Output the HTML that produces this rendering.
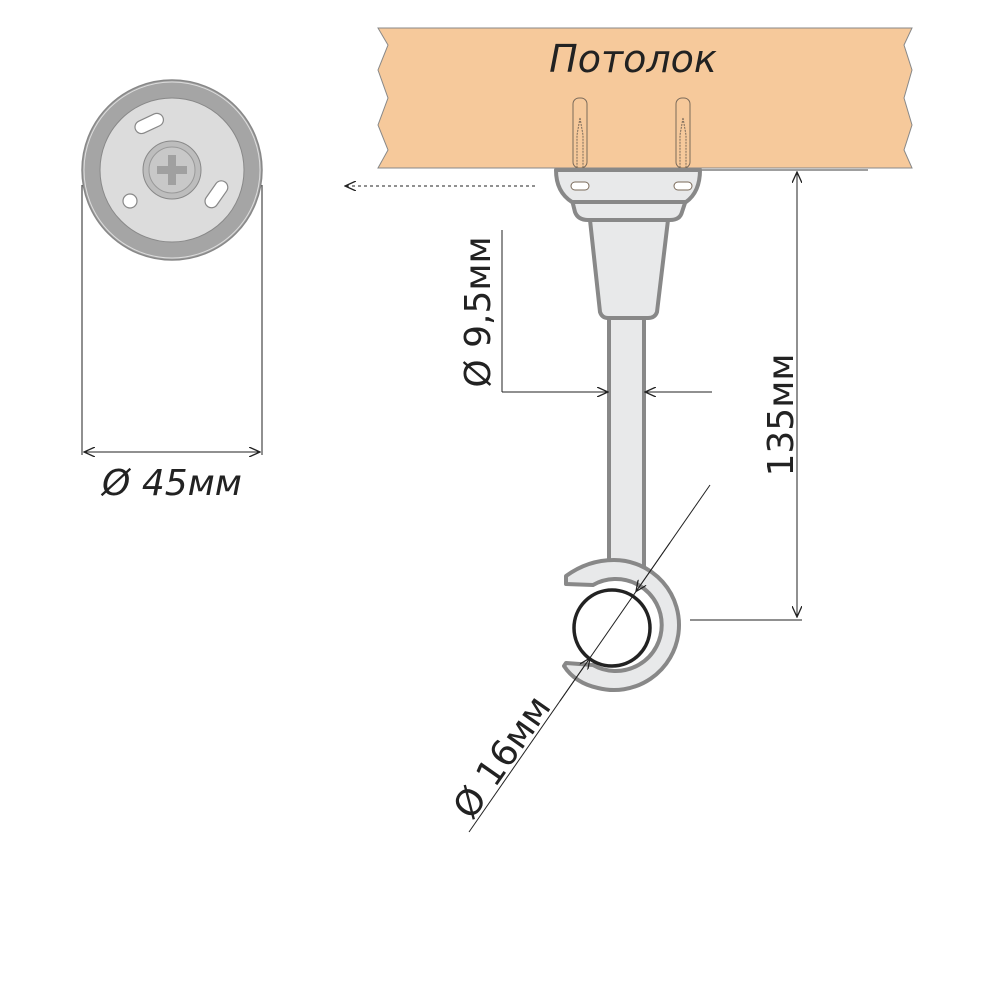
<!DOCTYPE html>
<html><head><meta charset="utf-8"><style>
html,body{margin:0;padding:0;background:#fff;width:1000px;height:1000px;overflow:hidden}
text{font-family:"DejaVu Sans","Liberation Sans",sans-serif;fill:#222}
</style></head><body>
<svg width="1000" height="1000" viewBox="0 0 1000 1000" xmlns="http://www.w3.org/2000/svg">
<defs>
<marker id="ar" markerWidth="12" markerHeight="10" refX="11" refY="5" orient="auto" markerUnits="userSpaceOnUse">
<path d="M0,0 L11,5 L0,10" fill="none" stroke="#222" stroke-width="1.3"/></marker>
</defs>
<!-- ceiling -->
<path d="M378,28 L912,28 L904,45 L912,70 L904,98 L912,125 L904,150 L912,168 L378,168 L388,150 L378,125 L388,98 L378,70 L388,45 Z" fill="#f6c99b" stroke="#888" stroke-width="1"/>
<text x="633" y="72" font-size="38" font-style="italic" text-anchor="middle" font-family="Liberation Sans">Потолок</text>
<!-- dowels -->
<g fill="none" stroke="#7a6a5a" stroke-width="1">
<rect x="573" y="98" width="14" height="70" rx="6"/>
<rect x="676" y="98" width="14" height="70" rx="6"/>
<path d="M580,118 L577,135 L577,188 M580,118 L583,135 L583,188" stroke-dasharray="2,1"/>
<path d="M683,118 L680,135 L680,188 M683,118 L686,135 L686,188" stroke-dasharray="2,1"/>
</g>
<line x1="700" y1="170" x2="868" y2="170" stroke="#666" stroke-width="1.3"/>
<!-- bracket -->
<g fill="#e8e9ea" stroke="#888" stroke-width="4" stroke-linejoin="round">
<rect x="609" y="310" width="35" height="260"/>
<path d="M590,220 L668,220 L657,312 Q655,318 648,318 L608,318 Q602,318 600,312 Z"/>
<path d="M572,200 L686,200 L682,212 Q680,220 670,220 L588,220 Q578,220 575,212 Z"/>
<path d="M556,170 L700,170 Q700,192 686,202 L572,202 Q556,192 556,170 Z"/>
<path d="M566,576 Q588,560 614,560 A65,65 0 1,1 598,688 Q575,683 564,666 L566,663 L593,665 A46,46 0 1,0 593,585 L566,584 Z"/>
</g>
<g fill="#fff" stroke="#7a6a5a" stroke-width="1">
<rect x="571" y="182" width="18" height="8" rx="4"/>
<rect x="674" y="182" width="18" height="8" rx="4"/>
</g>
<circle cx="612" cy="628" r="38" fill="#fff" stroke="#222" stroke-width="3.5"/>
<!-- dims -->
<g stroke="#222" stroke-width="1" fill="none">
<line x1="535" y1="186" x2="345" y2="186" stroke-dasharray="3,3" marker-end="url(#ar)"/>
<line x1="797" y1="617" x2="797" y2="172" marker-end="url(#ar)"/>
<line x1="797" y1="172" x2="797" y2="617" marker-end="url(#ar)"/>
<line x1="690" y1="620" x2="802" y2="620"/>
<line x1="502" y1="230" x2="502" y2="392"/>
<line x1="502" y1="392" x2="608" y2="392" marker-end="url(#ar)"/>
<line x1="712" y1="392" x2="645" y2="392" marker-end="url(#ar)"/>
<line x1="469" y1="832" x2="710" y2="485"/>
<line x1="560" y1="701" x2="590" y2="658" marker-end="url(#ar)"/>
<line x1="670" y1="542.6" x2="636" y2="591.5" marker-end="url(#ar)"/>
<line x1="82" y1="185" x2="82" y2="455"/>
<line x1="262" y1="185" x2="262" y2="455"/>
<line x1="172" y1="452" x2="84" y2="452" marker-end="url(#ar)"/>
<line x1="172" y1="452" x2="260" y2="452" marker-end="url(#ar)"/>
</g>
<text x="172" y="495" font-size="36" text-anchor="middle" font-style="italic">Ø 45мм</text>
<text transform="translate(490,312) rotate(-90)" font-size="36" text-anchor="middle">Ø 9,5мм</text>
<text transform="translate(793,415) rotate(-90)" font-size="36" text-anchor="middle">135мм</text>
<text transform="translate(512,764) rotate(-55)" font-size="36" text-anchor="middle">Ø 16мм</text>
<!-- rosette -->
<circle cx="172" cy="170" r="90" fill="#a5a5a5" stroke="#888" stroke-width="1.5"/>
<circle cx="172" cy="170" r="88" fill="none" stroke="#ddd" stroke-width="1"/>
<circle cx="172" cy="170" r="72" fill="#dcdcdc" stroke="#888" stroke-width="1"/>
<circle cx="172" cy="170" r="29" fill="#bdbdbd" stroke="#888" stroke-width="1"/>
<circle cx="172" cy="170" r="23" fill="#c8c8c8" stroke="#999" stroke-width="1"/>
<path d="M168,155 h8 v11 h11 v8 h-11 v11 h-8 v-11 h-11 v-8 h11 z" fill="#a0a0a0"/>
<g fill="#fff" stroke="#888" stroke-width="1.2">
<rect x="134" y="117" width="30" height="13" rx="6.5" transform="rotate(-25 149 123)"/>
<rect x="201" y="188" width="30" height="13" rx="6.5" transform="rotate(-55 216 194)"/>
<circle cx="130" cy="201" r="7"/>
</g>
</svg>
</body></html>
